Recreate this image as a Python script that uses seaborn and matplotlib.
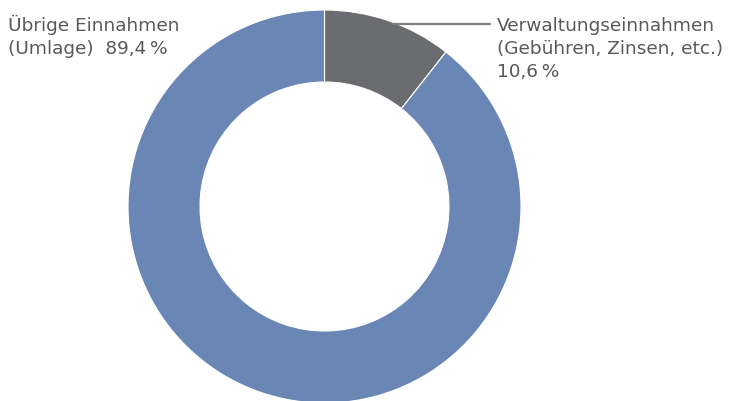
import matplotlib
matplotlib.use("Agg")
import matplotlib.pyplot as plt
import seaborn as sns

labels_right = ["Verwaltungseinnahmen", "(Gebühren, Zinsen, etc.)", "10,6\u202f%"]
labels_left = ["Übrige Einnahmen", "(Umlage)  89,4\u202f%"]
values = [10.6, 89.4]
colors = ["#6b6c70", "#6a86b5"]

sns.set_theme(style="white")
plt.rcParams['font.family'] = ['DejaVu Sans']

W, H = 732, 401
fig = plt.figure(figsize=(W / 100, H / 100), dpi=100)
ax = fig.add_axes([0, 0, 1, 1])
R = 196.5
cx, cy = 324.5, 206.5
ax.pie(values, colors=colors, startangle=90, counterclock=False, radius=1,
       wedgeprops=dict(width=72 / R, edgecolor="white", linewidth=0.8))
ax.set_aspect("auto")
ax.set_xlim(-cx / R, (W - cx) / R)
ax.set_ylim(-(H - cy) / R, cy / R)
ax.axis("off")

tc = "#595959"
def fx(x):
    return x / W
def fy(y):
    return 1 - y / H

fs = 13.3
for i, line in enumerate(labels_left):
    fig.text(fx(8), fy(31 + 23 * i), line, ha="left", va="baseline",
             fontsize=fs, color=tc)
for i, line in enumerate(labels_right):
    fig.text(fx(497), fy(31 + 23 * i), line, ha="left", va="baseline",
             fontsize=fs, color=tc)
fig.add_artist(plt.Line2D([fx(393), fx(490)], [fy(24), fy(24)], color="#7f7f7f",
                          linewidth=1.6, transform=fig.transFigure))

fig.savefig("out.png", dpi=100)
